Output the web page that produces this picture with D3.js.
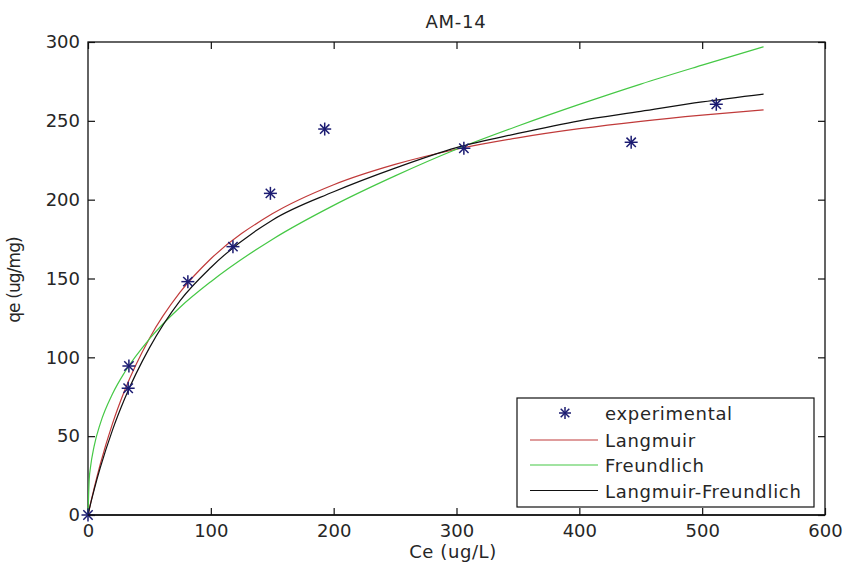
<!DOCTYPE html>
<html><head><meta charset="utf-8">
<script src="https://cdn.jsdelivr.net/npm/d3@7"></script>
<style>
body{margin:0;background:#fff;}
svg text{font-family:"DejaVu Sans",sans-serif;fill:#262626;}
</style></head>
<body>
<svg id="chart" width="844" height="564"></svg>
<script>
// ---- data ----
const title = "AM-14";
const xLabel = "Ce (ug/L)";
const yLabel = "qe (ug/mg)";
const xTicks = [0,100,200,300,400,500,600];
const yTicks = [0,50,100,150,200,250,300];

const expCe = [0, 33.3, 32.7, 81.3, 118, 148.5, 192.7, 306, 442.2, 511.5];
const expQe = [0, 94.5, 80.4, 148, 170.2, 204, 244.8, 232.6, 236.4, 260.5];

const curveCe = [0, 1, 2, 5, 10, 20, 30, 50, 75, 100, 150, 200, 250, 300, 350, 400, 450, 500, 550];
const langmuirQe = [0, 3.5, 7, 17, 32.2, 58.1, 79.3, 112, 141.3, 162.5, 191, 209.5, 222.4, 232, 239.2, 245, 249.7, 253.6, 256.9];
const freundlichQe = [0, 22.7, 30.1, 43.7, 58, 76.9, 90.7, 111.7, 131.8, 148, 174.8, 196.4, 215.1, 232, 246.7, 260.4, 273.3, 285.3, 297];
const lfQe = [0, 3.4, 6.8, 16, 30, 54, 74, 106, 136, 157, 187, 205, 220, 233, 242, 250, 256, 262, 267];

const seriesNames = ["experimental","Langmuir","Freundlich","Langmuir-Freundlich"];
const seriesColors = ["#1c1c72","#c03a3a","#45c845","#111111"];

// ---- layout ----
const svg = d3.select("#chart");
const L = 88, R = 825, T = 42, B = 515;
const x = d3.scaleLinear().domain([0,600]).range([L,R]);
const y = d3.scaleLinear().domain([0,300]).range([B,T]);

const axisColor = "#111";
const fs = 18;

// box
svg.append("rect").attr("x",L).attr("y",T).attr("width",R-L).attr("height",B-T)
  .attr("fill","#fff").attr("stroke",axisColor).attr("stroke-width",1.3);

// axes with inward ticks
const gx = svg.append("g").attr("transform",`translate(0,${B})`)
  .call(d3.axisBottom(x).tickValues(xTicks).tickSize(-7).tickPadding(9).tickFormat(d3.format("d")));
const gxt = svg.append("g").attr("transform",`translate(0,${T})`)
  .call(d3.axisTop(x).tickValues(xTicks).tickSize(-7).tickFormat(""));
const gy = svg.append("g").attr("transform",`translate(${L},0)`)
  .call(d3.axisLeft(y).tickValues(yTicks).tickSize(-7).tickPadding(8).tickFormat(d3.format("d")));
const gyr = svg.append("g").attr("transform",`translate(${R},0)`)
  .call(d3.axisRight(y).tickValues(yTicks).tickSize(-7).tickFormat(""));
[gx,gxt,gy,gyr].forEach(g=>{
  g.select(".domain").remove();
  g.selectAll("line").attr("stroke",axisColor).attr("stroke-width",1.2);
  g.selectAll("text").attr("font-size",fs).attr("font-family","DejaVu Sans").attr("fill","#262626");
});

// clip
svg.append("clipPath").attr("id","clip").append("rect")
  .attr("x",L-6).attr("y",T).attr("width",R-L+6).attr("height",B-T+6);

const line = d3.line().x(d=>x(d[0])).y(d=>y(d[1])).curve(d3.curveMonotoneX);
const curves = [langmuirQe, freundlichQe, lfQe];
const plot = svg.append("g").attr("clip-path","url(#clip)");
curves.forEach((qs,i)=>{
  plot.append("path").datum(curveCe.map((c,j)=>[c,qs[j]]))
    .attr("d",line).attr("fill","none").attr("stroke",seriesColors[i+1]).attr("stroke-width",1.2);
});

// asterisk marker
function star(g, cx, cy, r, color){
  const a = r*0.72;
  const segs = [[-r,0,r,0],[0,-r,0,r],[-a,-a,a,a],[-a,a,a,-a]];
  segs.forEach(s=>g.append("line").attr("x1",cx+s[0]).attr("y1",cy+s[1]).attr("x2",cx+s[2]).attr("y2",cy+s[3])
    .attr("stroke",color).attr("stroke-width",1.5));
}
const mk = svg.append("g");
expCe.forEach((c,i)=>star(mk, x(c), y(expQe[i]), 6.5, seriesColors[0]));

// re-draw bottom axis line on top
svg.append("line").attr("x1",L).attr("x2",R).attr("y1",B).attr("y2",B).attr("stroke",axisColor).attr("stroke-width",1.3);

// title and labels
svg.append("text").attr("x",456).attr("y",28).attr("text-anchor","middle").attr("font-size",fs).attr("letter-spacing",0.8).text(title);
svg.append("text").attr("x",453).attr("y",558).attr("text-anchor","middle").attr("font-size",fs).attr("letter-spacing",0.6).text(xLabel);
svg.append("text").attr("transform",`translate(19.5,280) rotate(-90)`).attr("text-anchor","middle").attr("font-size",17).attr("letter-spacing",-0.9).text(yLabel);

// legend
const lg = svg.append("g");
lg.append("rect").attr("x",517).attr("y",398).attr("width",297).attr("height",109)
  .attr("fill","#fff").attr("stroke",axisColor).attr("stroke-width",1.2);
const rowY = [413, 440, 465, 490.5];
seriesNames.forEach((n,i)=>{
  if(i===0) star(lg, 565, rowY[i], 6, seriesColors[0]);
  else lg.append("line").attr("x1",530).attr("x2",598).attr("y1",rowY[i]).attr("y2",rowY[i])
    .attr("stroke",seriesColors[i]).attr("stroke-width",1.2);
  lg.append("text").attr("x",605).attr("y",rowY[i]+7).attr("font-size",fs).attr("letter-spacing",0.7).text(n);
});
</script>
</body></html>
